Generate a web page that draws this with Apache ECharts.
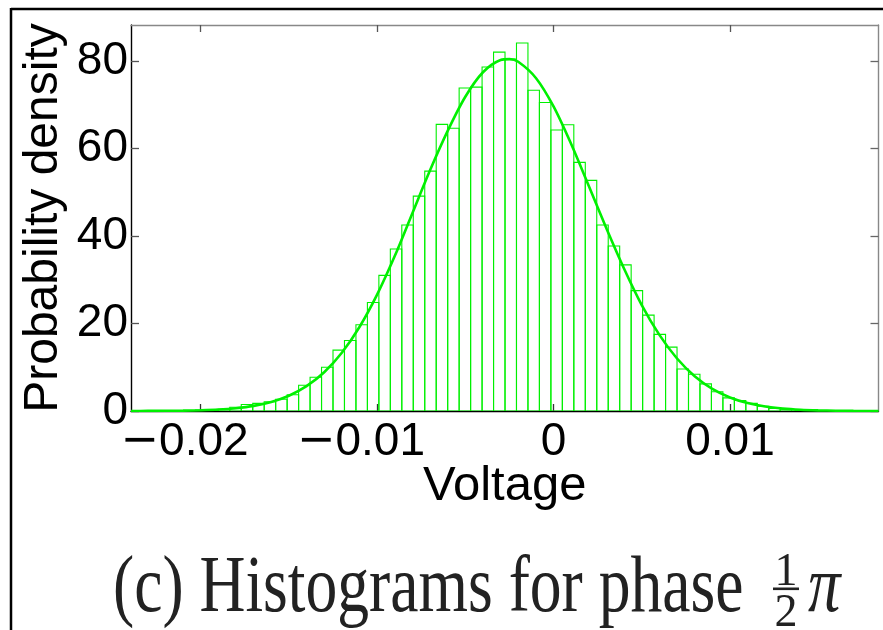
<!DOCTYPE html>
<html>
<head>
<meta charset="utf-8">
<script src="https://cdn.jsdelivr.net/npm/echarts@6/dist/echarts.min.js"></script>
<style>
html,body{margin:0;padding:0;background:#fff;}
#chart{width:883px;height:630px;}
</style>
</head>
<body>
<div id="chart"></div>
<script>
// ---- data ----
const binWidth = 0.00065;
const binCenters = [
  -0.019975, -0.019325, -0.018675, -0.018025, -0.017375, -0.016725, -0.016075, -0.015425,
  -0.014775, -0.014125, -0.013475, -0.012825, -0.012175, -0.011525, -0.010875, -0.010225,
  -0.009575, -0.008925, -0.008275, -0.007625, -0.006975, -0.006325, -0.005675, -0.005025,
  -0.004375, -0.003725, -0.003075, -0.002425, -0.001775, -0.001125, -0.000475, 0.000175,
  0.000825, 0.001475, 0.002125, 0.002775, 0.003425, 0.004075, 0.004725, 0.005375,
  0.006025, 0.006675, 0.007325, 0.007975, 0.008625, 0.009275, 0.009925, 0.010575,
  0.011225, 0.011875, 0.012525, 0.013175
];
const binHeights = [
  0.23, 0.25, 0.4, 0.85, 1.5, 1.75, 2.1, 2.7,
  3.7, 5.9, 7.7, 10.0, 13.9, 16.1, 19.7, 24.8,
  31.0, 37.0, 42.5, 49.1, 54.8, 65.5, 64.6, 73.8,
  74.0, 78.6, 82.0, 80.4, 84.1, 73.3, 70.5, 64.2,
  65.4, 56.8, 52.7, 42.5, 37.7, 33.4, 27.5, 21.9,
  17.5, 14.6, 9.6, 8.4, 6.2, 4.4, 3.0, 2.4,
  1.75, 1.1, 0.6, 0.4
];
const curveX = [
  -0.02395, -0.023, -0.022, -0.021, -0.020, -0.019, -0.018, -0.017, -0.016, -0.015,
  -0.014, -0.013, -0.012, -0.011, -0.010, -0.009, -0.008, -0.007, -0.006, -0.005,
  -0.004, -0.003, -0.0025, -0.002, -0.001, 0.000, 0.001, 0.002, 0.003, 0.004,
  0.005, 0.006, 0.007, 0.008, 0.009, 0.010, 0.011, 0.012, 0.013, 0.014,
  0.015, 0.016, 0.017, 0.018, 0.01842
];
const curveY = [
  0.01, 0.02, 0.04, 0.08, 0.17, 0.33, 0.64, 1.17, 2.06, 3.49,
  5.67, 8.85, 13.3, 19.2, 26.6, 35.4, 45.2, 55.0, 64.0, 71.8,
  77.4, 80.2, 80.4, 79.8, 76.1, 69.6, 61.0, 51.4, 41.7, 32.5,
  24.2, 17.4, 12.0, 7.95, 5.05, 3.1, 1.82, 1.02, 0.55, 0.28,
  0.14, 0.07, 0.03, 0.01, 0.01
];
const xTicks = [-0.02, -0.01, 0, 0.01];
const yTicks = [0, 20, 40, 60, 80];
const xMin = -0.02395, xMax = 0.01842;
const yMin = 0, yMax = 88.2;
const xLabel = 'Voltage';
const yLabel = 'Probability density';
const captionText = '(c) Histograms for phase';

const green = '#00f000';
const sans = '"Liberation Sans", Arial, sans-serif';
const serif = '"Liberation Serif", "Times New Roman", serif';

function fmtX(v) {
  if (v === 0) return '0';
  const s = String(Math.abs(+v.toFixed(6)));
  return v < 0 ? '{m|\u2212}' + s + '\u2002\u2009' : s;
}

const chart = echarts.init(document.getElementById('chart'), null, {renderer: 'canvas'});

const option = {
  backgroundColor: '#fff',
  animation: false,
  grid: {left: 131, right: 4.5, top: 25, bottom: 219, containLabel: false},
  xAxis: [
    {
      type: 'value', min: xMin, max: xMax, position: 'bottom',
      axisLine: {show: true, onZero: false, lineStyle: {color: '#000', width: 1.4}},
      axisTick: {show: true, inside: true, length: 7, customValues: xTicks, lineStyle: {color: '#333', width: 1.3}},
      axisLabel: {
        show: true, customValues: xTicks, formatter: fmtX, fontSize: 46, fontFamily: sans, color: '#000', margin: 8,
        rich: {m: {fontSize: 46, fontFamily: '"DejaVu Sans", sans-serif', color: '#000'}}
      },
      splitLine: {show: false},
      name: xLabel, nameLocation: 'middle', nameGap: 51, nameMoveOverlap: false,
      nameTextStyle: {fontSize: 49, fontFamily: sans, color: '#000'}
    },
    {
      type: 'value', min: xMin, max: xMax, position: 'top',
      axisLine: {show: true, onZero: false, lineStyle: {color: '#888', width: 1.4}},
      axisTick: {show: true, inside: true, length: 7, customValues: xTicks, lineStyle: {color: '#555', width: 1.3}},
      axisLabel: {show: false},
      splitLine: {show: false}
    }
  ],
  yAxis: [
    {
      type: 'value', min: yMin, max: yMax, position: 'left',
      axisLine: {show: true, onZero: false, lineStyle: {color: '#000', width: 1.4}},
      axisTick: {show: true, inside: true, length: 8, customValues: yTicks, lineStyle: {color: '#555', width: 1.3}},
      axisLabel: {show: true, customValues: yTicks, fontSize: 46, fontFamily: sans, color: '#000', margin: 3},
      splitLine: {show: false},
      name: yLabel, nameLocation: 'middle', nameGap: 63, nameRotate: 90, nameMoveOverlap: false,
      nameTextStyle: {fontSize: 48, fontFamily: sans, color: '#000'}
    },
    {
      type: 'value', min: yMin, max: yMax, position: 'right',
      axisLine: {show: true, onZero: false, lineStyle: {color: '#888', width: 1.4}},
      axisTick: {show: true, inside: true, length: 8, customValues: yTicks, lineStyle: {color: '#666', width: 1.3}},
      axisLabel: {show: false},
      splitLine: {show: false}
    }
  ],
  series: [
    {
      type: 'custom',
      xAxisIndex: 0, yAxisIndex: 0,
      clip: true,
      data: binCenters.map((c, i) => [c, binHeights[i]]),
      renderItem: function (params, api) {
        const c = api.value(0), h = api.value(1);
        const p1 = api.coord([c - binWidth / 2, h]);
        const p2 = api.coord([c + binWidth / 2, 0]);
        return {
          type: 'rect',
          shape: {x: p1[0], y: p1[1], width: p2[0] - p1[0], height: p2[1] - p1[1]},
          style: {fill: 'rgba(255,255,255,0)', stroke: green, lineWidth: 1.1}
        };
      },
      z: 2
    },
    {
      type: 'line',
      xAxisIndex: 0, yAxisIndex: 0,
      data: curveX.map((x, i) => [x, curveY[i]]),
      showSymbol: false,
      smooth: 0.3,
      lineStyle: {color: green, width: 2.6},
      z: 3
    }
  ],
  graphic: [
    // outer figure frame
    {type: 'line', shape: {x1: 11, y1: 9, x2: 883, y2: 9}, style: {stroke: '#000', lineWidth: 2.5}, silent: true},
    {type: 'line', shape: {x1: 11, y1: 8, x2: 11, y2: 630}, style: {stroke: '#000', lineWidth: 2.5}, silent: true},
    // caption
    {type: 'text', x: 113, y: 590, scaleX: 0.795,
     style: {text: captionText, font: '80px ' + serif, fill: '#222', textAlign: 'left', textVerticalAlign: 'middle'}, silent: true},
    {type: 'text', x: 786, y: 573,
     style: {text: '1', font: '46px ' + serif, fill: '#222', textAlign: 'center', textVerticalAlign: 'middle'}, silent: true},
    {type: 'rect', shape: {x: 773, y: 587.5, width: 26, height: 2.6}, style: {fill: '#222'}, silent: true},
    {type: 'text', x: 786, y: 614,
     style: {text: '2', font: '46px ' + serif, fill: '#222', textAlign: 'center', textVerticalAlign: 'middle'}, silent: true},
    {type: 'text', x: 808, y: 590, scaleX: 0.81,
     style: {text: '\u03C0', font: 'italic 80px ' + serif, fill: '#222', textAlign: 'left', textVerticalAlign: 'middle'}, silent: true}
  ]
};
chart.setOption(option);
</script>
</body>
</html>
